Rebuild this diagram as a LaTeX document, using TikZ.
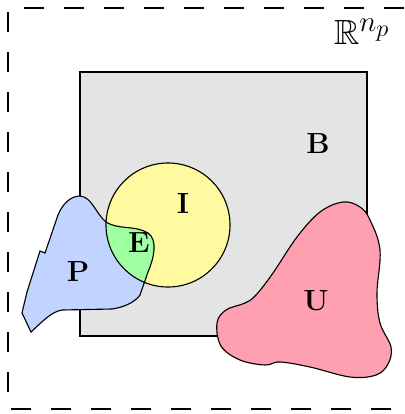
\documentclass[tikz,border=0pt]{standalone}
\usepackage{amsmath,amssymb}
\usepackage{tikz}
\usetikzlibrary{positioning}
\usepackage{xcolor}
\definecolor{boxgray}{RGB}{228,228,228}
\definecolor{softblue}{RGB}{192,212,255}
\definecolor{softyellow}{RGB}{255,250,160}
\definecolor{softgreen}{RGB}{160,255,160}
\definecolor{softpink}{RGB}{255,160,176}
\newcommand{\Pshape}{(80,196) .. controls (92,197) and (96,214) .. (106,222) .. controls (118,230) and (135,225) .. (148,233) .. controls (158,240) and (154,258) .. (148,272) -- (140,295) .. controls (135,302) and (125,307) .. (112,309) -- (62,310) .. controls (52,312) and (46,318) .. (31,332) -- (22,313) -- (27,292) -- (40,251) -- (45,253) -- (58,215) .. controls (62,205) and (70,196) .. (80,196) -- cycle}

\begin{document}
\begin{tikzpicture}[x=0.025cm, y=-0.025cm,
  setlabel/.style={font=\huge\bfseries},
  outline/.style={draw=black, line width=0.8pt}]
  \useasboundingbox (0,0) rectangle (404,414);

  % Space
  \draw[line width=0.8pt, dash pattern=on 0.5cm off 0.5cm] (404,8) -- (8,8) -- (8,409) -- (404,409);
  \node[font=\Huge] (space) at (362,32) {$\mathbb{R}^{n_p}$};

  % Box
  \draw[fill=boxgray, line width=1.2pt] (80,72) rectangle (367,336);
  \node[setlabel] (B) at (318,143) {B};

  % P, I and E
  \fill[softblue] \Pshape;
  \fill[softyellow] (168,225) circle[radius=62*0.025cm];
  \begin{scope}
    \clip \Pshape;
    \fill[softgreen] (168,225) circle[radius=62*0.025cm];
  \end{scope}
  \draw[outline] \Pshape;
  \draw[outline] (168,225) circle[radius=62*0.025cm];
  \node[setlabel] (I) at (183,203) {I};
  \node[setlabel] (E) at (139,243) {E};
  \node[setlabel] (P) at (78,271) {P};

  % U
  \draw[outline, fill=softpink] plot[smooth cycle, tension=0.6] coordinates {(343,202) (360,207) (370,220) (380,250) (377,293) (380,323) (391,347) (388,364) (376,375) (350,377) (310,367) (280,362) (265,365) (240,360) (221,346) (217,323) (226,310) (245,303) (256,295) (273,273) (297,237) (320,212)};
  \node[setlabel] (U) at (316,301) {U};
\end{tikzpicture}
\end{document}
